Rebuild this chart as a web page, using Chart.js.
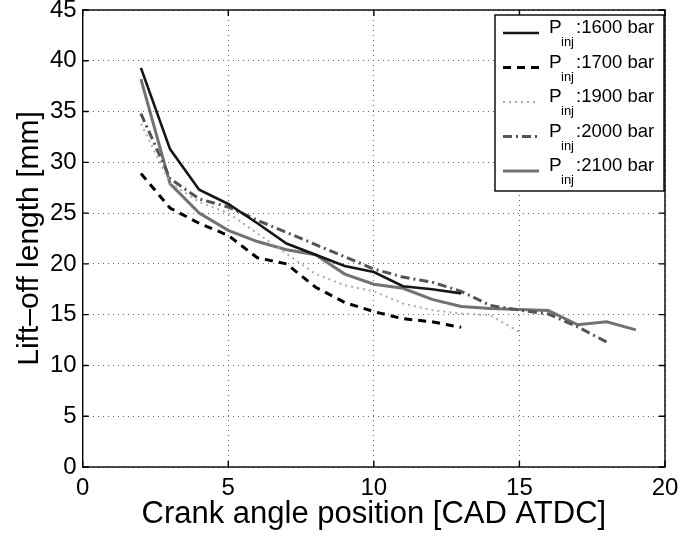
<!DOCTYPE html>
<html>
<head>
<meta charset="utf-8">
<script src="https://cdn.jsdelivr.net/npm/chart.js@4/dist/chart.umd.min.js"></script>
<style>
  html, body { margin: 0; padding: 0; background: #fff; }
  canvas { display: block; }
</style>
</head>
<body>
<canvas id="chart" width="680" height="536"></canvas>
<script>
"use strict";

// crank angle [CAD ATDC] and lift-off length [mm] per injection pressure
const angle1600 = [2, 3, 4, 5, 6, 7, 8, 9, 10, 11, 12, 13];
const lift1600 = [39.3, 31.3, 27.3, 25.9, 24.0, 22.0, 20.9, 19.8, 19.2, 17.8, 17.5, 17.1];

const angle1700 = [2, 3, 4, 5, 6, 7, 8, 9, 10, 11, 12, 13];
const lift1700 = [28.9, 25.5, 24.0, 22.8, 20.6, 20.0, 17.7, 16.2, 15.3, 14.6, 14.3, 13.75];

const angle1900 = [2, 3, 4, 5, 6, 7, 8, 9, 10, 11, 12, 13, 14, 15];
const lift1900 = [33.8, 28.0, 26.1, 25.0, 23.0, 21.0, 19.0, 17.9, 17.3, 16.1, 15.45, 15.1, 14.96, 13.3];

const angle2000 = [2, 3, 4, 5, 6, 7, 8, 9, 10, 11, 12, 13, 14, 15, 16, 17, 18];
const lift2000 = [34.8, 28.4, 26.4, 25.6, 24.3, 23.1, 21.9, 20.7, 19.5, 18.7, 18.2, 17.3, 15.9, 15.45, 15.06, 13.8, 12.3];

const angle2100 = [2, 3, 4, 5, 6, 7, 8, 9, 10, 11, 12, 13, 14, 15, 16, 17, 18, 19];
const lift2100 = [38.2, 27.9, 25.0, 23.3, 22.2, 21.4, 20.9, 19.0, 18.0, 17.6, 16.5, 15.8, 15.6, 15.5, 15.4, 14.0, 14.3, 13.5];

const pressureLabels = ["1600 bar", "1700 bar", "1900 bar", "2000 bar", "2100 bar"];

const xTitle = "Crank angle position [CAD ATDC]";
const yTitle = "Lift\u2013off length [mm]";

const fontFamily = '"Liberation Sans", Arial, Helvetica, sans-serif';

function points(xs, ys) {
  return xs.map((x, i) => ({ x, y: ys[i] }));
}

const seriesStyles = [
  { color: "#161616", width: 2.6, dash: [] },
  { color: "#000000", width: 3, dash: [8, 6] },
  { color: "#ababab", width: 2, dash: [2, 4] },
  { color: "#545454", width: 3, dash: [9, 4, 2, 4] },
  { color: "#727272", width: 3, dash: [] },
];

const seriesData = [
  points(angle1600, lift1600),
  points(angle1700, lift1700),
  points(angle1900, lift1900),
  points(angle2000, lift2000),
  points(angle2100, lift2100),
];

const datasets = seriesData.map((data, i) => ({
  label: pressureLabels[i],
  data,
  borderColor: seriesStyles[i].color,
  borderWidth: seriesStyles[i].width,
  borderDash: seriesStyles[i].dash,
  pointRadius: 0,
  tension: 0,
  fill: false,
}));

// Matlab style box with inward ticks on all four sides
const frame = {
  id: "frame",
  afterDatasetsDraw(chart) {
    const { ctx, chartArea: a, scales } = chart;
    ctx.save();
    ctx.strokeStyle = "#000";
    ctx.lineWidth = 1.4;
    ctx.setLineDash([]);
    ctx.beginPath();
    for (const v of scales.y.ticks.map((t) => t.value)) {
      const py = scales.y.getPixelForValue(v);
      ctx.moveTo(a.left, py);
      ctx.lineTo(a.left + 6, py);
      ctx.moveTo(a.right, py);
      ctx.lineTo(a.right - 6, py);
    }
    for (const v of scales.x.ticks.map((t) => t.value)) {
      const px = scales.x.getPixelForValue(v);
      ctx.moveTo(px, a.bottom);
      ctx.lineTo(px, a.bottom - 6);
      ctx.moveTo(px, a.top);
      ctx.lineTo(px, a.top + 6);
    }
    ctx.stroke();
    ctx.strokeRect(a.left, a.top, a.right - a.left, a.bottom - a.top);
    ctx.restore();
  },
};

// legend with subscripted P_inj labels
const legendBox = {
  id: "legendBox",
  afterDraw(chart) {
    const { ctx, chartArea: a } = chart;
    const right = a.right - 1;
    const top = a.top + 5;
    const width = 169;
    const height = 176;
    const left = right - width;
    ctx.save();
    ctx.fillStyle = "#fff";
    ctx.fillRect(left, top, width, height);
    ctx.strokeStyle = "#000";
    ctx.lineWidth = 1.4;
    ctx.setLineDash([]);
    ctx.strokeRect(left, top, width, height);

    chart.data.datasets.forEach((ds, i) => {
      const y = top + 18 + i * 34.5;
      ctx.beginPath();
      ctx.strokeStyle = ds.borderColor;
      ctx.lineWidth = ds.borderWidth;
      ctx.setLineDash(ds.borderDash);
      ctx.moveTo(left + 8, y);
      ctx.lineTo(left + 44, y);
      ctx.stroke();

      ctx.fillStyle = "#000";
      ctx.textBaseline = "alphabetic";
      ctx.textAlign = "left";
      ctx.font = "19px " + fontFamily;
      ctx.fillText("P", left + 54, y);
      ctx.font = "13px " + fontFamily;
      ctx.fillText("inj", left + 66, y + 13);
      ctx.font = "18.5px " + fontFamily;
      ctx.fillText(":" + ds.label, left + 81, y);
    });
    ctx.restore();
  },
};

new Chart(document.getElementById("chart"), {
  type: "line",
  data: { datasets },
  plugins: [frame, legendBox],
  options: {
    responsive: false,
    animation: false,
    devicePixelRatio: 1,
    layout: { padding: { top: 10, right: 15, left: 0, bottom: 0 } },
    plugins: {
      legend: { display: false },
      tooltip: { enabled: false },
    },
    scales: {
      x: {
        type: "linear",
        min: 0,
        max: 20,
        afterFit: (scale) => {
          scale.height = 69;
          scale.paddingLeft = 0;
          scale.paddingRight = 0;
        },
        ticks: {
          stepSize: 5,
          padding: 7,
          color: "#000",
          font: { family: fontFamily, size: 24 },
          maxRotation: 0,
        },
        grid: {
          color: "#666",
          lineWidth: 1,
          drawTicks: false,
        },
        border: { display: false, dash: [1, 4] },
        title: {
          display: true,
          text: xTitle,
          color: "#000",
          font: { family: fontFamily, size: 31, lineHeight: 1 },
          padding: { top: 0, bottom: 6 },
        },
      },
      y: {
        type: "linear",
        min: 0,
        max: 45,
        afterFit: (scale) => {
          scale.width = 82.7;
          scale.paddingTop = 0;
          scale.paddingBottom = 0;
        },
        ticks: {
          stepSize: 5,
          padding: 6,
          color: "#000",
          font: { family: fontFamily, size: 24 },
        },
        grid: {
          color: "#666",
          lineWidth: 1,
          drawTicks: false,
        },
        border: { display: false, dash: [1, 4] },
        title: {
          display: true,
          text: yTitle,
          color: "#000",
          font: { family: fontFamily, size: 30, lineHeight: 1 },
          padding: { top: 15, bottom: 0 },
        },
      },
    },
  },
});
</script>
</body>
</html>
